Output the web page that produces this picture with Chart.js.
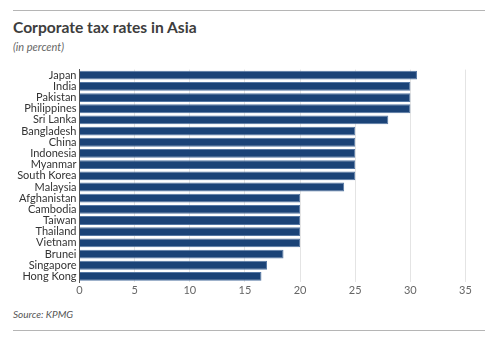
<!DOCTYPE html>
<html>
<head>
<meta charset="utf-8">
<script src="https://cdn.jsdelivr.net/npm/chart.js@4"></script>
<style>
  html, body { margin: 0; padding: 0; background: #fff; }
  body { width: 500px; height: 341px; position: relative; overflow: hidden; font-family: Lato, "Open Sans", sans-serif; }
  .rule { position: absolute; left: 13px; width: 472px; height: 1px; background: #b5b5b5; }
  #title { position: absolute; left: 13px; top: 18px; font-size: 15.6px; font-weight: bold; color: #3d3d3d; white-space: nowrap; }
  #sub { position: absolute; left: 13px; top: 40px; font-size: 11px; font-style: italic; color: #666; }
  #src { position: absolute; left: 13px; top: 308px; font-size: 10px; font-style: italic; color: #555; }
  #wrap { position: absolute; left: 0; top: 60px; width: 500px; height: 242px; }
</style>
</head>
<body>
<div class="rule" style="top:10px"></div>
<div id="title">Corporate tax rates in Asia</div>
<div id="sub">(in percent)</div>
<div id="wrap"><canvas id="c"></canvas></div>
<div id="src">Source: KPMG</div>
<div class="rule" style="top:330px"></div>
<script>
const countries = ["Japan","India","Pakistan","Philippines","Sri Lanka","Bangladesh","China","Indonesia","Myanmar","South Korea","Malaysia","Afghanistan","Cambodia","Taiwan","Thailand","Vietnam","Brunei","Singapore","Hong Kong"];
const taxRates = [30.6,30,30,30,28,25,25,25,25,25,24,20,20,20,20,20,18.5,17,16.5];
const xTicks = [0,5,10,15,20,25,30,35];

new Chart(document.getElementById('c'), {
  type: 'bar',
  data: {
    labels: countries,
    datasets: [{
      data: taxRates,
      backgroundColor: '#1b4377',
      borderColor: '#5577a3',
      borderWidth: 1,
      barPercentage: 0.79,
      categoryPercentage: 1
    }]
  },
  options: {
    indexAxis: 'y',
    responsive: true,
    maintainAspectRatio: false,
    animation: false,
    layout: { padding: { top: 6, right: 34.5, left: 0, bottom: 0 } },
    plugins: { legend: { display: false }, tooltip: { enabled: false } },
    scales: {
      x: {
        min: 0, max: 35,
        afterBuildTicks: s => { s.ticks = xTicks.map(v => ({ value: v })); },
        afterFit: s => { s.height = 20; },
        grid: { color: '#e4e4e4', drawTicks: false, lineWidth: 1 },
        border: { display: false },
        ticks: { color: '#666', font: { family: 'Lato', size: 11 }, padding: 2 }
      },
      y: {
        afterFit: s => { s.width = 79.5; },
        grid: { display: false, drawTicks: false },
        border: { display: true, color: '#555', width: 1 },
        ticks: { color: '#333', font: { family: 'Lato', size: 11 }, padding: 3, autoSkip: false }
      }
    }
  }
});
</script>
</body>
</html>
